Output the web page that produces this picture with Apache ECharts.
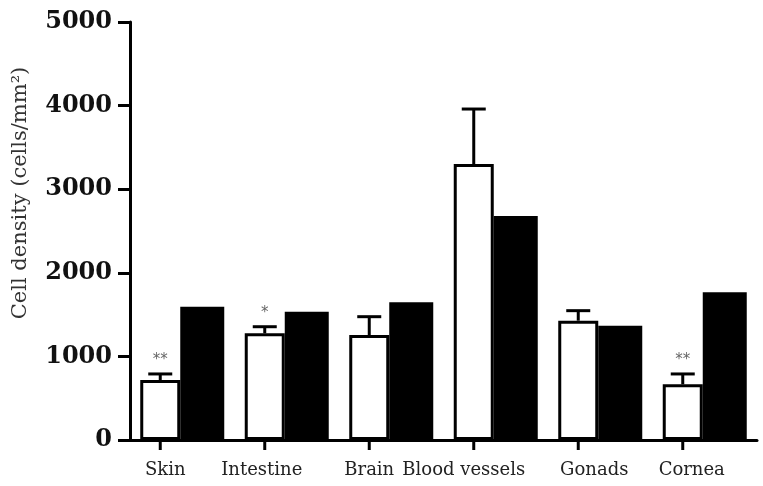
<!DOCTYPE html>
<html><head><meta charset="utf-8">
<script src="https://cdn.jsdelivr.net/npm/echarts@6/dist/echarts.min.js"></script>
<style>html,body{margin:0;padding:0;background:#fff}#c{width:763px;height:486px}</style>
</head><body><div id="c"></div>
<script>
var categories = ['Skin', 'Intestine', 'Brain', 'Blood vessels', 'Gonads', 'Cornea'];
var whiteMeans = [718, 1276, 1256, 3301, 1427, 666];
var whiteUpper = [790, 1355, 1475, 3959, 1547, 790];
var blackMeans = [1594, 1535, 1647, 2680, 1367, 1767];
var significance = ['**', '*', '', '', '', '**'];
var yTicks = [0, 1000, 2000, 3000, 4000, 5000];
// layout: horizontal shift (px, negative = left) of each category label
var labelShift = [-17, -25, -22, -32, -6, -13];

var WHITE_OFFSET = -22;
var chart = echarts.init(document.getElementById('c'), null, {renderer: 'canvas'});
var serif = 'DejaVu Serif';

var errData = categories.map(function (c, i) { return [i, whiteMeans[i], whiteUpper[i]]; });
var tickData = categories.map(function (c, i) { return [i, 0]; });
var xData = categories.map(function (c, i) {
  var s = labelShift[i];
  return {value: c, textStyle: {padding: s < 0 ? [0, -2 * s, 0, 0] : [0, 0, 0, 2 * s]}};
});

chart.setOption({
  animation: false,
  backgroundColor: '#fff',
  grid: {left: 130, right: 6, top: 22, bottom: 46, containLabel: false},
  graphic: [{
    type: 'text', x: 21, y: 193, rotation: Math.PI / 2,
    style: {text: 'Cell density (cells/mm²)', font: '21px "DejaVu Serif"', fill: '#333', align: 'center', verticalAlign: 'middle'}
  }],
  xAxis: {
    type: 'category', data: xData, boundaryGap: true,
    axisLine: {lineStyle: {color: '#000', width: 3}},
    axisTick: {show: false},
    axisLabel: {interval: 0, fontFamily: serif, fontSize: 18, color: '#222', margin: 21}
  },
  yAxis: {
    type: 'value', min: 0, max: 5000, interval: 1000,
    splitLine: {show: false},
    axisLine: {show: true, lineStyle: {color: '#000', width: 3}},
    axisTick: {show: true, length: 12, lineStyle: {color: '#000', width: 3}},
    axisLabel: {fontFamily: serif, fontWeight: 'bold', fontSize: 24, color: '#111', margin: 18,
      formatter: function (v) { return yTicks.indexOf(v) >= 0 ? String(v) : ''; }}
  },
  series: [
    {type: 'bar', data: whiteMeans, barWidth: 40, barGap: '0%',
      itemStyle: {color: '#fff', borderColor: '#000', borderWidth: 3}},
    {type: 'bar', data: blackMeans, barWidth: 44, barGap: '0%',
      itemStyle: {color: '#000'}},
    {type: 'custom', data: errData, z: 5, encode: {x: 0, y: 2},
      renderItem: function (params, api) {
        var i = api.value(0);
        var p0 = api.coord([i, api.value(1)]);
        var p1 = api.coord([i, api.value(2)]);
        var x = p0[0] + WHITE_OFFSET;
        var sig = significance[i];
        var children = [
          {type: 'line', shape: {x1: x, y1: p0[1], x2: x, y2: p1[1]}, style: {stroke: '#000', lineWidth: 3}},
          {type: 'line', shape: {x1: x - 12, y1: p1[1], x2: x + 12, y2: p1[1]}, style: {stroke: '#000', lineWidth: 3}}
        ];
        if (sig) {
          children.push({type: 'text', x: x, y: p1[1] - 14,
            style: {text: sig, font: '15px "DejaVu Sans"', fill: '#666', align: 'center', verticalAlign: 'middle'}});
        }
        return {type: 'group', children: children};
      }},
    {type: 'custom', data: tickData, z: 5, clip: false,
      renderItem: function (params, api) {
        var p = api.coord([api.value(0), api.value(1)]);
        var x = p[0] + WHITE_OFFSET;
        return {type: 'line', shape: {x1: x, y1: p[1], x2: x, y2: p[1] + 10}, style: {stroke: '#000', lineWidth: 3}};
      }}
  ]
});
</script>
</body></html>
